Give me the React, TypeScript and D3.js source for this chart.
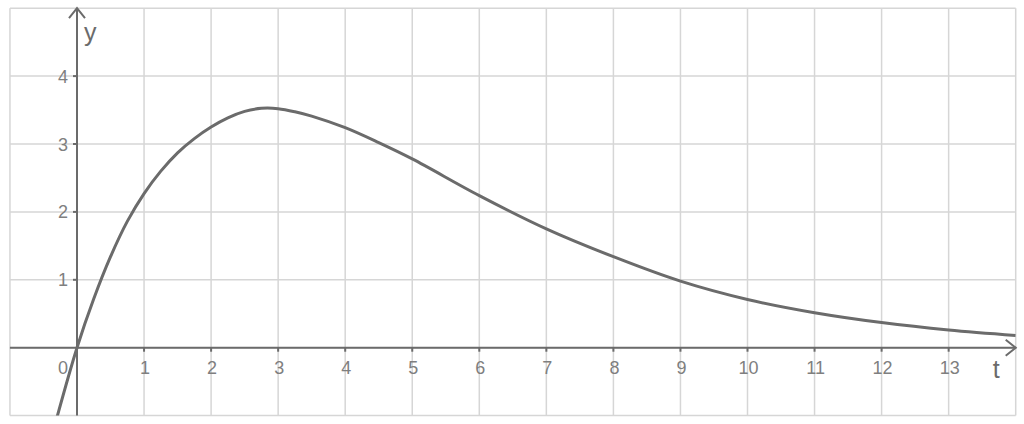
import { useMemo } from "react";
import * as d3 from "d3";

// values
const tValues = [-0.3, 0, 0.25, 0.5, 0.75, 1, 1.25, 1.5, 1.75, 2, 2.25, 2.5, 2.75, 3, 3.25, 3.5, 4, 4.5, 5, 6, 7, 8, 9, 10, 11, 12, 13, 14];
const yValues = [-1.03, 0, 0.72, 1.34, 1.86, 2.27, 2.6, 2.87, 3.08, 3.25, 3.385, 3.48, 3.525, 3.52, 3.475, 3.41, 3.24, 3.02, 2.78, 2.24, 1.75, 1.34, 0.98, 0.71, 0.515, 0.37, 0.26, 0.18];
const xTicks = [1, 2, 3, 4, 5, 6, 7, 8, 9, 10, 11, 12, 13];
const yTicks = [1, 2, 3, 4];
const xGrid = d3.range(-1, 15);
const yGrid = d3.range(-1, 6);

const W = 1024;
const H = 424;
const GRID = "#d6d6d6";
const AXIS = "#6b6b6b";
const LABEL = "#7f7f7f";

export default function App() {
  const x = d3.scaleLinear().domain([-1, 14]).range([9.95, 1015.7]);
  const y = d3.scaleLinear().domain([-1, 5]).range([415.6, 8.2]);

  const path = useMemo(() => {
    const pts = tValues.map((t, i) => [t, yValues[i]] as [number, number]);
    return d3
      .line<[number, number]>()
      .x((d) => x(d[0]))
      .y((d) => y(d[1]))
      .curve(d3.curveCatmullRom.alpha(0.5))(pts);
  }, []);

  const x0 = x(0);
  const y0 = y(0);

  return (
    <svg
      width={W}
      height={H}
      style={{ position: "absolute", left: 0, top: 0, background: "#fff" }}
      fontFamily="'Liberation Sans', Arial, sans-serif"
    >
      <defs>
        <clipPath id="plot">
          <rect x={x(-1)} y={y(5)} width={x(14) - x(-1)} height={y(-1) - y(5)} />
        </clipPath>
      </defs>

      {/* grid */}
      <g stroke={GRID} strokeWidth={1.5}>
        {xGrid.map((v) => (
          <line key={"gx" + v} x1={x(v)} x2={x(v)} y1={y(5)} y2={y(-1)} />
        ))}
        {yGrid.map((v) => (
          <line key={"gy" + v} x1={x(-1)} x2={x(14)} y1={y(v)} y2={y(v)} />
        ))}
      </g>

      {/* axes */}
      <g stroke={AXIS} strokeWidth={2} fill="none">
        <line x1={x(-1)} x2={x(14) + 0.5} y1={y0} y2={y0} />
        <line x1={x0} x2={x0} y1={y(-1)} y2={y(5)} />
        <polyline points={`${x0 - 8},${y(5) + 10} ${x0},${y(5)} ${x0 + 8},${y(5) + 10}`} />
        <polyline points={`${x(14) - 10},${y0 - 8} ${x(14)},${y0} ${x(14) - 10},${y0 + 8}`} />
        {xTicks.map((v) => (
          <line key={"tx" + v} x1={x(v)} x2={x(v)} y1={y0} y2={y0 + 4} />
        ))}
        {yTicks.map((v) => (
          <line key={"ty" + v} x1={x0 - 4} x2={x0} y1={y(v)} y2={y(v)} />
        ))}
      </g>

      {/* tick labels */}
      <g fill={LABEL} fontSize={18}>
        {xTicks.map((v) => (
          <text key={"lx" + v} x={x(v) + 1} y={y0 + 26} textAnchor="middle">
            {v}
          </text>
        ))}
        <text x={x0 - 9} y={y0 + 26} textAnchor="end">
          0
        </text>
        {yTicks.map((v) => (
          <text key={"ly" + v} x={x0 - 9} y={y(v) + 6.5} textAnchor="end">
            {v}
          </text>
        ))}
      </g>

      {/* axis names */}
      <g fill={AXIS} fontSize={25}>
        <text x={x0 + 7} y={y(5) + 33}>y</text>
        <text x={x(14) - 23} y={y0 + 30}>t</text>
      </g>

      {/* curve */}
      <path d={path ?? ""} fill="none" stroke={AXIS} strokeWidth={3} clipPath="url(#plot)" />
    </svg>
  );
}
